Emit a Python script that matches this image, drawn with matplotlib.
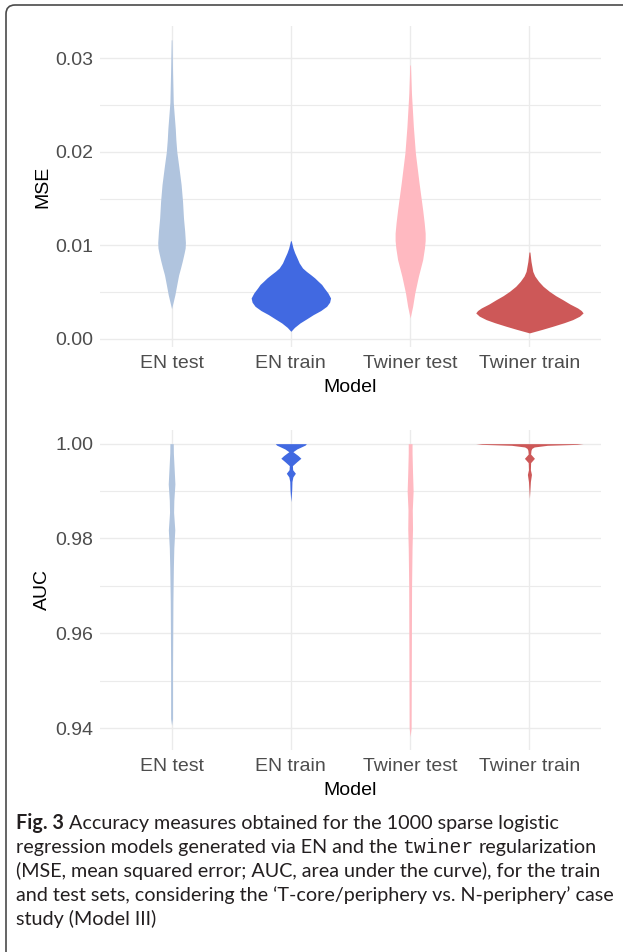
import matplotlib
matplotlib.use("Agg")
import matplotlib.pyplot as plt
from matplotlib.patches import FancyBboxPatch
import numpy as np

models = ["EN test", "EN train", "Twiner test", "Twiner train"]
colors = ["#B0C4DE", "#4169E1", "#FFB9C1", "#CD5858"]

# violin outlines: value and half width (category units)
mse_en_test_y = [0.0032, 0.0040, 0.0047, 0.0058, 0.0068, 0.0076, 0.0083, 0.0092, 0.0097, 0.0103, 0.0115,
                 0.0129, 0.0147, 0.0165, 0.0183, 0.0200, 0.0213, 0.0225, 0.0253, 0.0287, 0.0320]
mse_en_test_w = [0.0, 0.015, 0.028, 0.044, 0.059, 0.076, 0.090, 0.106, 0.114, 0.116, 0.110,
                 0.100, 0.092, 0.080, 0.062, 0.044, 0.036, 0.031, 0.014, 0.008, 0.003]

mse_en_train_y = [0.00078, 0.0012, 0.00168, 0.0021, 0.00257, 0.0030, 0.00346, 0.0039, 0.00435, 0.0049, 0.00542,
                  0.0058, 0.00613, 0.0065, 0.00684, 0.0072, 0.00756, 0.0081, 0.00863, 0.0092, 0.0097, 0.01048]
mse_en_train_w = [0.0, 0.030, 0.077, 0.130, 0.188, 0.250, 0.300, 0.325, 0.333, 0.310, 0.279,
                  0.258, 0.230, 0.200, 0.167, 0.130, 0.098, 0.070, 0.052, 0.032, 0.018, 0.003]

mse_tw_test_y = [0.00221, 0.00346, 0.00489, 0.00666, 0.00845, 0.0097, 0.0105, 0.0113, 0.0124, 0.0138, 0.01665,
                 0.01986, 0.02271, 0.02628, 0.0293]
mse_tw_test_w = [0.0, 0.021, 0.039, 0.069, 0.105, 0.120, 0.126, 0.126, 0.118, 0.105, 0.075,
                 0.044, 0.027, 0.011, 0.003]

mse_tw_train_y = [0.00061, 0.0010, 0.00132, 0.0017, 0.00203, 0.0024, 0.00275, 0.0030, 0.00328, 0.0037,
                  0.00417, 0.0046, 0.00506, 0.0056, 0.00613, 0.0067, 0.0072, 0.00827, 0.00927]
mse_tw_train_w = [0.0, 0.110, 0.195, 0.290, 0.362, 0.420, 0.450, 0.435, 0.404, 0.340,
                  0.279, 0.220, 0.167, 0.115, 0.077, 0.045, 0.028, 0.013, 0.004]

auc_en_test_y = [0.9406, 0.9420, 0.9527, 0.9667, 0.9738, 0.9780, 0.9818, 0.9855, 0.9880, 0.9915, 0.9950, 0.9980, 1.0000]
auc_en_test_w = [0.0, 0.008, 0.008, 0.011, 0.015, 0.019, 0.027, 0.017, 0.019, 0.028, 0.021, 0.015, 0.014]

auc_en_train_y = [0.98776, 0.9902, 0.9920, 0.9930, 0.99375, 0.9945, 0.99536, 0.9962, 0.99692, 0.99747,
                  0.9983, 0.99888, 0.9997, 1.0000]
auc_en_train_w = [0.0, 0.007, 0.009, 0.017, 0.038, 0.015, 0.013, 0.050, 0.084, 0.061,
                  0.017, 0.050, 0.120, 0.130]

auc_tw_test_y = [0.9382, 0.9400, 0.9550, 0.9700, 0.9780, 0.9820, 0.9860, 0.9900, 0.9940, 0.9980, 1.0000]
auc_tw_test_w = [0.0, 0.008, 0.010, 0.012, 0.016, 0.020, 0.018, 0.025, 0.020, 0.016, 0.016]

auc_tw_train_y = [0.9885, 0.9920, 0.9935, 0.9945, 0.9960, 0.9969, 0.9978, 0.9986, 0.9990, 0.9993,
                  0.99965, 0.99985, 1.0000]
auc_tw_train_w = [0.0, 0.008, 0.017, 0.008, 0.010, 0.042, 0.010, 0.013, 0.020, 0.040,
                  0.150, 0.400, 0.450]

mse_ticks = [0.00, 0.01, 0.02, 0.03]
auc_ticks = [0.94, 0.96, 0.98, 1.00]

caption_lines = [
    [("Fig. 3", "bold"), ("Accuracy measures obtained for the 1000 sparse logistic", "reg")],
    [("regression models generated via EN and the", "reg"), ("twiner", "mono"), ("regularization", "reg")],
    [("(MSE, mean squared error; AUC, area under the curve), for the train", "reg")],
    [("and test sets, considering the \u2018T-core/periphery vs. N-periphery\u2019 case", "reg")],
    [("study (Model III)", "reg")],
]

W, H = 623, 952
plt.rcParams["font.family"] = ["Liberation Sans", "DejaVu Sans"]
fig = plt.figure(figsize=(W / 100, H / 100), dpi=100)
fig.patch.set_facecolor("white")


def draw_panel(ax, profiles, ticks, ylim, ylabel, minor):
    for i, (ys, ws) in enumerate(profiles):
        ys = np.asarray(ys)
        ws = np.asarray(ws)
        ax.fill_betweenx(ys, i + 1 - ws, i + 1 + ws, color=colors[i], lw=0, zorder=3)
    ax.set_xlim(0.4, 4.6)
    ax.set_ylim(*ylim)
    ax.set_xticks(range(1, 5))
    ax.set_xticklabels(models)
    ax.set_yticks(ticks)
    ax.set_yticklabels([f"{t:.2f}" for t in ticks])
    ax.set_yticks(minor, minor=True)
    for s in ax.spines.values():
        s.set_visible(False)
    ax.grid(True, which="major", color="#EBEBEB", lw=1.0, zorder=0)
    ax.grid(True, which="minor", axis="y", color="#EBEBEB", lw=0.8, zorder=0)
    ax.set_axisbelow(True)
    ax.tick_params(which="both", length=0, labelsize=14, labelcolor="#4D4D4D")
    ax.tick_params(axis="x", pad=5.5)
    ax.tick_params(axis="y", pad=5)
    ax.set_xlabel("Model", fontsize=14, labelpad=5)
    ax.set_ylabel(ylabel, fontsize=14, labelpad=3)


ax1 = fig.add_axes([100 / W, 1 - 347 / H, 501 / W, 321 / H])
draw_panel(ax1,
           [(mse_en_test_y, mse_en_test_w), (mse_en_train_y, mse_en_train_w),
            (mse_tw_test_y, mse_tw_test_w), (mse_tw_train_y, mse_tw_train_w)],
           mse_ticks, (-0.0009, 0.03348), "MSE", [0.005, 0.015, 0.025])

ax2 = fig.add_axes([100 / W, 1 - 750 / H, 501 / W, 320 / H])
draw_panel(ax2,
           [(auc_en_test_y, auc_en_test_w), (auc_en_train_y, auc_en_train_w),
            (auc_tw_test_y, auc_tw_test_w), (auc_tw_train_y, auc_tw_train_w)],
           auc_ticks, (0.93537, 1.00288), "AUC", [0.95, 0.97, 0.99])

# frame round the whole figure (right and bottom edges run off the page)
frame = FancyBboxPatch((0.06, -1.0), 10.0, 10.47, boxstyle="round,pad=0,rounding_size=0.09",
                       transform=fig.dpi_scale_trans, fill=False, ec="#4A4A4A", lw=1.2)
fig.add_artist(frame)

# caption, laid out piece by piece
fig.canvas.draw()
r = fig.canvas.get_renderer()
fonts = {"reg": dict(family="Lato"), "bold": dict(family="Lato", weight="bold"),
         "mono": dict(family="Liberation Mono")}


def text_w(s, size, kind):
    t = fig.text(0, 0, s, fontsize=size, **fonts[kind])
    w = t.get_window_extent(r).width
    t.remove()
    return w


size = 10 * 587 / text_w(caption_lines[2][0][0], 10, "reg")
space = text_w("a a", size, "reg") - text_w("aa", size, "reg")
baselines = [829, 853, 877, 901, 925]
for line, yb in zip(caption_lines, baselines):
    x = 16
    for s, kind in line:
        fig.text(x / W, 1 - yb / H, s, fontsize=size, va="baseline", ha="left",
                 color="#231F20", **fonts[kind])
        x += text_w(s, size, kind) + space

fig.savefig("out.png", dpi=100)
